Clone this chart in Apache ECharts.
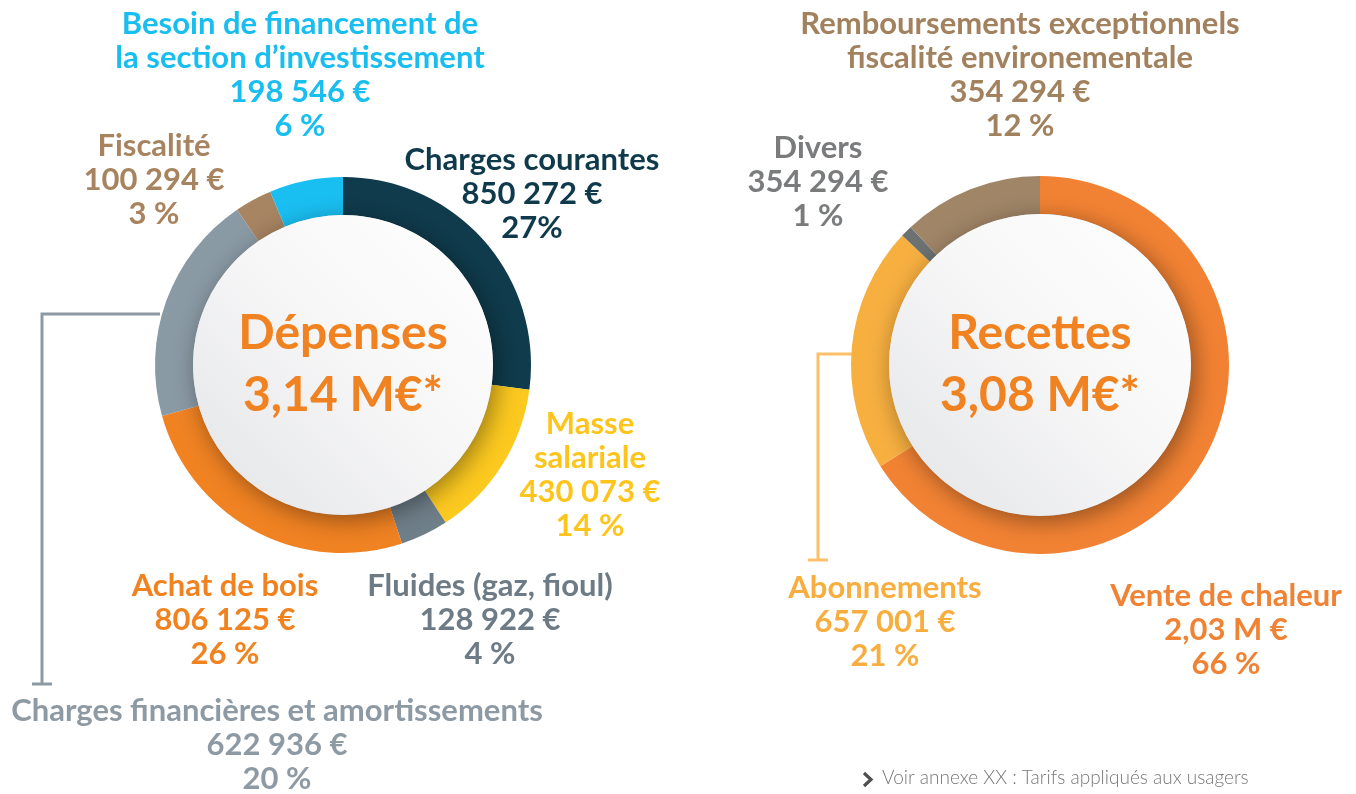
<!DOCTYPE html>
<html>
<head>
<meta charset="utf-8">
<script src="https://cdn.jsdelivr.net/npm/echarts@6/dist/echarts.min.js"></script>
<style>
  html, body { margin: 0; padding: 0; background: #fff; }
  #chart { width: 1356px; height: 794px; }
</style>
</head>
<body>
<div id="chart"></div>
<script>
// Dépenses (sens horaire depuis midi)
const depNames = ['Charges courantes', 'Masse\nsalariale', 'Fluides (gaz, fioul)', 'Achat de bois', 'Charges financières et amortissements', 'Fiscalité', 'Besoin de financement de\nla section d’investissement']
const depValues = [850272, 430073, 128922, 806125, 622936, 100294, 198546]
const depAmounts = ['850 272 €', '430 073 €', '128 922 €', '806 125 €', '622 936 €', '100 294 €', '198 546 €']
const depPercents = ['27%', '14 %', '4 %', '26 %', '20 %', '3 %', '6 %']

// Recettes
const recNames = ['Vente de chaleur', 'Abonnements', 'Divers', 'Remboursements exceptionnels\nfiscalité environementale']
const recValues = [66, 21, 1, 12]
const recAmounts = ['2,03 M €', '657 001 €', '354 294 €', '354 294 €']
const recPercents = ['66 %', '21 %', '1 %', '12 %']

const depTitle = 'Dépenses'
const depTotal = '3,14 M€*'
const recTitle = 'Recettes'
const recTotal = '3,08 M€*'
const footnote = 'Voir annexe XX : Tarifs appliqués aux usagers'

// couleurs
const depColors = ['#0f3b4c', '#fcc91f', '#6f7f89', '#f08222', '#8a9aa4', '#a78462', '#19bff1']
const depTextColors = ['#0e3a4c', '#fdc51c', '#6c7b85', '#f08220', '#8d9aa4', '#a7845f', '#19bef0']
const recColors = ['#f28233', '#f7af40', '#6c7172', '#a08567']
const recTextColors = ['#f08233', '#f8ae3f', '#797b7c', '#a2815f']

// position des étiquettes (centre x, haut y)
const depLabelPos = [[532, 143], [590, 407], [490, 569], [225, 569], [277, 694], [154, 129], [300, 7]]
const recLabelPos = [[1226, 579], [885, 571], [818, 131], [1020, 7]]

const FONT = 'Lato, "Open Sans", sans-serif'
const orange = '#f08221'

function buildData(names, values, amounts, percents, colors, textColors) {
  return names.map((name, i) => ({
    name: name,
    value: values[i],
    amount: amounts[i],
    pct: percents[i],
    itemStyle: { color: colors[i] },
    label: { color: textColors[i] },
  }))
}

function ring(center, radius, data, labelPos) {
  return {
    type: 'pie',
    center: center,
    radius: radius,
    startAngle: 90,
    clockwise: true,
    avoidLabelOverlap: false,
    silent: true,
    z: 2,
    label: {
      show: true,
      position: 'outside',
      fontFamily: FONT,
      fontWeight: 'bold',
      fontSize: 31,
      lineHeight: 34,
      align: 'center',
      formatter: (p) => p.name + '\n' + p.data.amount + '\n' + p.data.pct,
    },
    labelLine: { show: false },
    labelLayout: (params) => {
      const pos = labelPos[params.dataIndex]
      return { x: pos[0], y: pos[1], align: 'center', verticalAlign: 'top' }
    },
    data: data,
  }
}

function disc(center, radius, title, total) {
  return {
    type: 'pie',
    center: center,
    radius: [0, radius],
    silent: true,
    z: 3,
    itemStyle: {
      color: new echarts.graphic.LinearGradient(1, 0, 0, 1, [
        { offset: 0, color: '#ffffff' },
        { offset: 0.45, color: '#f7f7f8' },
        { offset: 1, color: '#e3e4e6' },
      ]),
      shadowBlur: 24,
      shadowColor: 'rgba(0, 0, 0, 0.4)',
      shadowOffsetX: 4,
      shadowOffsetY: 5,
    },
    label: {
      show: true,
      position: 'center',
      fontFamily: FONT,
      fontWeight: 'bold',
      fontSize: 48,
      lineHeight: 62,
      color: orange,
      formatter: title + '\n' + total,
    },
    labelLine: { show: false },
    data: [{ value: 1, name: title }],
  }
}

const chart = echarts.init(document.getElementById('chart'), null, { renderer: 'canvas' })

const option = {
  backgroundColor: '#ffffff',
  animation: false,
  graphic: [
    // crochet Charges financières
    { type: 'polyline', z: 1, shape: { points: [[160, 314], [42, 314], [42, 684]] }, style: { stroke: '#8d9aa4', lineWidth: 3, fill: null } },
    { type: 'line', z: 1, shape: { x1: 32, y1: 684, x2: 52, y2: 684 }, style: { stroke: '#8d9aa4', lineWidth: 3 } },
    // crochet Abonnements
    { type: 'polyline', z: 1, shape: { points: [[856, 354], [818, 354], [818, 560]] }, style: { stroke: '#fcc06a', lineWidth: 3, fill: null } },
    { type: 'line', z: 1, shape: { x1: 808, y1: 560, x2: 828, y2: 560 }, style: { stroke: '#fcc06a', lineWidth: 3 } },
    // note
    { type: 'polyline', z: 1, shape: { points: [[864, 773], [871, 779.5], [864, 786]] }, style: { stroke: '#4f4f4f', lineWidth: 3.2, fill: null } },
    { type: 'text', left: 882, top: 768, style: { text: footnote, font: '300 19px ' + FONT, fill: '#777777' } },
  ],
  series: [
    ring([343, 365], [150, 188], buildData(depNames, depValues, depAmounts, depPercents, depColors, depTextColors), depLabelPos),
    disc([343, 365], 150, depTitle, depTotal),
    ring([1040, 365], [151, 189], buildData(recNames, recValues, recAmounts, recPercents, recColors, recTextColors), recLabelPos),
    disc([1040, 365], 151, recTitle, recTotal),
  ],
}

chart.setOption(option)
</script>
</body>
</html>
